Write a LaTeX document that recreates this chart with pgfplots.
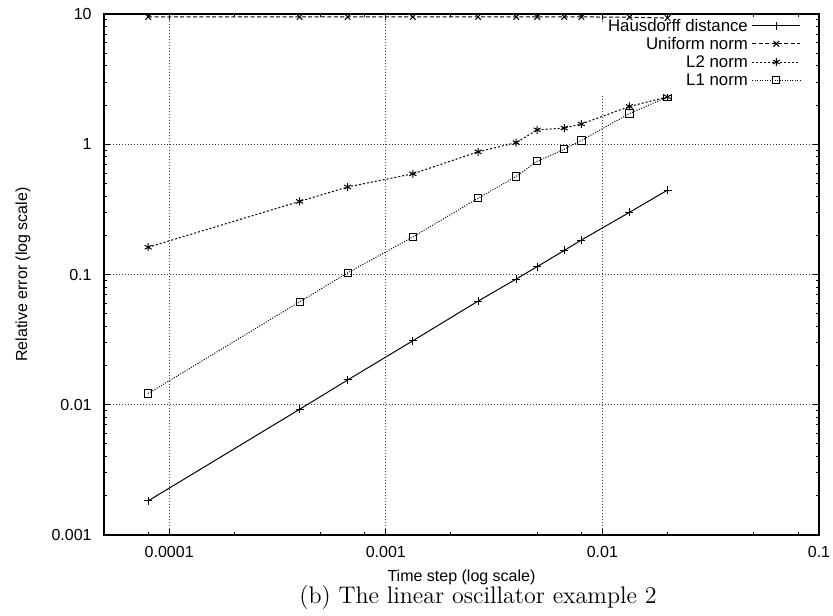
\documentclass[border=0pt]{standalone}
\usepackage{fontspec}
\newfontfamily\arial{Liberation Sans}
\usepackage{pgfplots}
\pgfplotsset{compat=1.18}
\usetikzlibrary{calc}
\newcommand{\axfont}{\arial\fontsize{8}{9.6}\selectfont}
\newcommand{\legfont}{\arial\fontsize{8.4}{10}\selectfont}
\begin{document}
\begin{tikzpicture}
\begin{axis}[
  scale only axis, width=357.5pt, height=260.5pt,
  xmode=log, ymode=log,
  xmin=5e-5, xmax=0.1, ymin=0.001, ymax=10,
  xtick={1e-4,1e-3,1e-2,1e-1}, xticklabels={0.0001,0.001,0.01,0.1},
  ytick={0.001,0.01,0.1,1,10}, yticklabels={0.001,0.01,0.1,1,10},
  minor xtick={8e-5,2e-4,5e-4,8e-4,2e-3,5e-3,8e-3,2e-2,5e-2,8e-2},
  minor ytick={0.002,0.003,0.004,0.005,0.006,0.007,0.008,0.009,
               0.02,0.03,0.04,0.05,0.06,0.07,0.08,0.09,
               0.2,0.3,0.4,0.5,0.6,0.7,0.8,0.9,
               2,3,4,5,6,7,8,9},
  xmajorgrids, ymajorgrids,
  major tick length=3pt, minor tick length=1.5pt,
  tick style={black, line width=0.5pt},
  major grid style={black!75, line width=0.5pt, dash pattern=on 0.5pt off 1pt},
  axis line style={line width=0.7pt},
  tick label style={font=\axfont},
  xticklabel style={anchor=north, inner sep=0pt, yshift=-5.5pt},
  yticklabel style={anchor=east, inner sep=0pt, xshift=-6pt},
  label style={font=\axfont},
  xlabel={Time step (log scale)},
  ylabel={Relative error (log scale)},
  xlabel style={at={(axis description cs:0.5,0)}, anchor=center, yshift=-21pt},
  ylabel style={at={(axis description cs:-0.1133,0.5)}, anchor=center},
  legend plot pos=right, legend cell align=right,
  legend style={at={(axis description cs:0.978,0.9858)}, anchor=north east,
    draw=none, fill=white, font=\legfont, inner xsep=1pt, inner ysep=0pt, row sep=0pt,
    nodes={inner xsep=2pt, inner ysep=0pt, text height=4.8pt, text depth=4.2pt}},
  legend image code/.code={\draw[mark repeat=2, mark phase=2, #1] plot coordinates {(0pt,2.6pt) (12pt,2.6pt) (24pt,2.6pt)};},
  every axis plot/.append style={black, line width=0.5pt, mark size=2pt},
]
\addplot[solid, mark=+, mark options={solid}] coordinates {
 (8e-5,1.83e-3) (4e-4,9.23e-3) (6.667e-4,0.0155) (1.333e-3,0.031) (2.667e-3,0.0625)
 (4e-3,0.0923) (5e-3,0.115) (6.667e-3,0.153) (8e-3,0.184) (1.333e-2,0.30) (2e-2,0.445)};
\addlegendentry{Hausdorff distance}
\addplot[dash pattern=on 2pt off 1.2pt, mark=x, mark options={solid}] coordinates {
 (8e-5,9.5) (4e-4,9.5) (6.667e-4,9.5) (1.333e-3,9.5) (2.667e-3,9.5)
 (4e-3,9.5) (5e-3,9.5) (6.667e-3,9.5) (8e-3,9.5) (1.333e-2,9.45) (2e-2,9.3)};
\addlegendentry{Uniform norm}
\addplot[dash pattern=on 1pt off 1pt, mark=asterisk, mark options={solid}] coordinates {
 (8e-5,0.162) (4e-4,0.364) (6.667e-4,0.47) (1.333e-3,0.593) (2.667e-3,0.875)
 (4e-3,1.03) (5e-3,1.29) (6.667e-3,1.33) (8e-3,1.43) (1.333e-2,1.95) (2e-2,2.31)};
\addlegendentry{L2 norm}
\addplot[dash pattern=on 0.5pt off 0.75pt, mark=square, mark options={solid, mark size=1.8pt}] coordinates {
 (8e-5,0.0122) (4e-4,0.0617) (6.667e-4,0.103) (1.333e-3,0.194) (2.667e-3,0.385)
 (4e-3,0.566) (5e-3,0.741) (6.667e-3,0.916) (8e-3,1.07) (1.333e-2,1.72) (2e-2,2.31)};
\addlegendentry{L1 norm}
\end{axis}
\node[font=\fontsize{12}{14.5}\selectfont, anchor=base] at ($(current axis.south west)+(187pt,-34pt)$) {(b) The linear oscillator example 2};
\path ($(current axis.south west)+(-52pt,-39pt)$) rectangle ($(current axis.north east)+(7pt,7pt)$);
\end{tikzpicture}
\end{document}
